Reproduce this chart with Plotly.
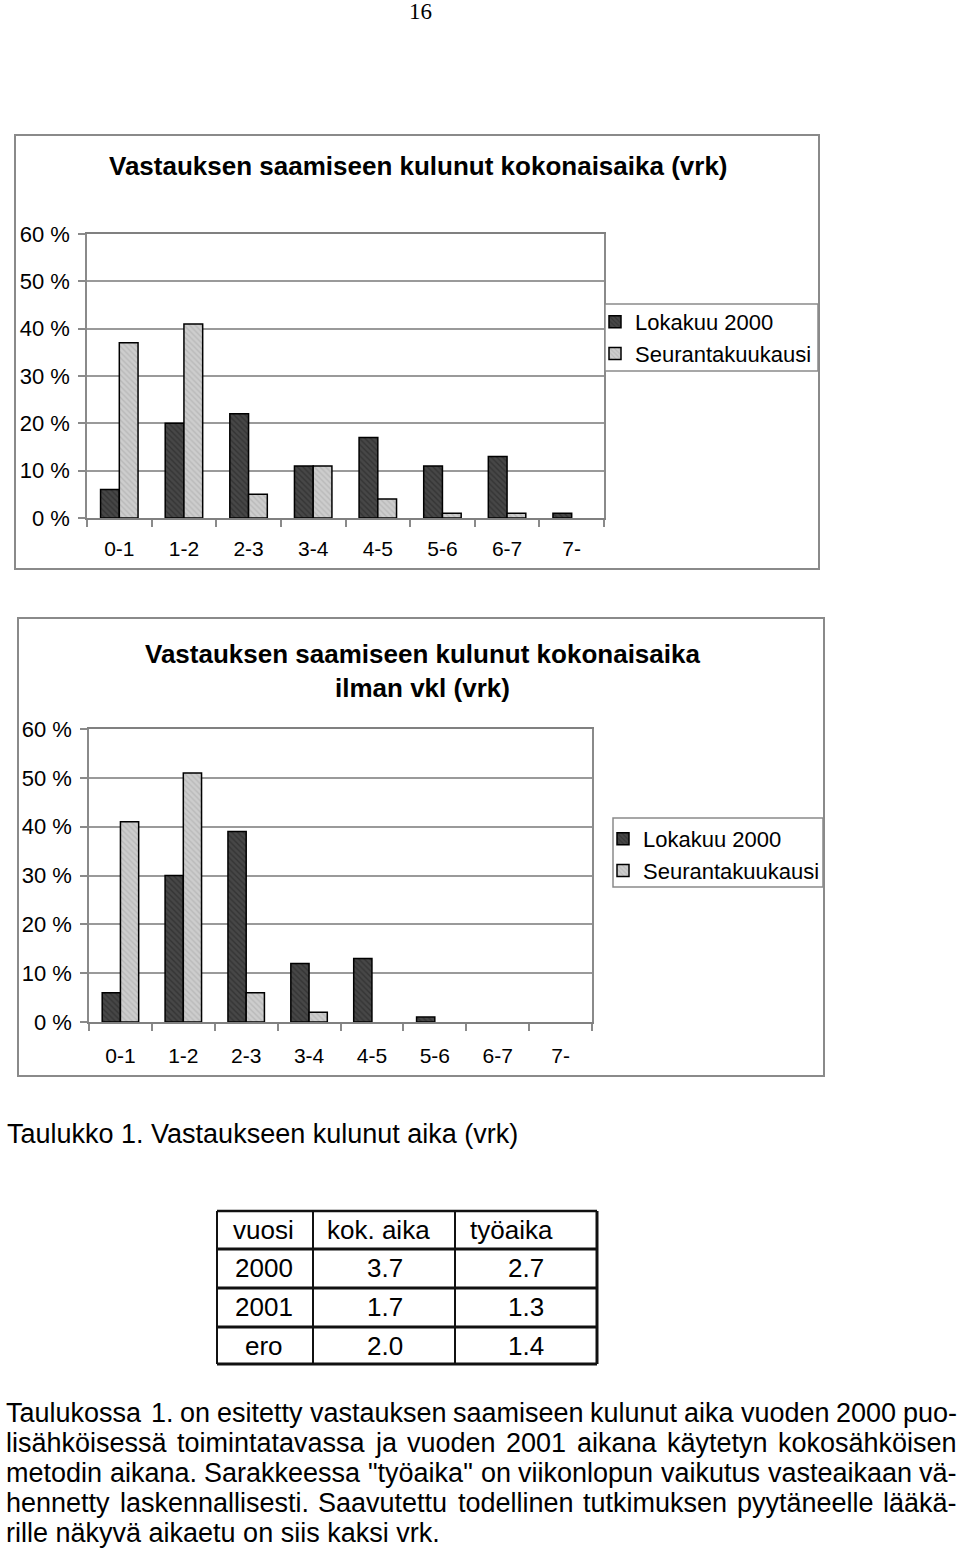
import plotly.graph_objects as go

# ---------------- data ----------------
categories = ["0-1", "1-2", "2-3", "3-4", "4-5", "5-6", "6-7", "7-"]
series_names = ["Lokakuu 2000", "Seurantakuukausi"]

chart1_title = "Vastauksen saamiseen kulunut kokonaisaika (vrk)"
chart1_lokakuu = [6, 20, 22, 11, 17, 11, 13, 1]
chart1_seuranta = [37, 41, 5, 11, 4, 1, 1, 0]

chart2_title = "Vastauksen saamiseen kulunut kokonaisaika<br>ilman vkl (vrk)"
chart2_lokakuu = [6, 30, 39, 12, 13, 1, 0, 0]
chart2_seuranta = [41, 51, 6, 2, 0, 0, 0, 0]

y_tickvals = [0, 10, 20, 30, 40, 50, 60]
y_ticktext = ["0 %", "10 %", "20 %", "30 %", "40 %", "50 %", "60 %"]

page_number = "16"
table_caption = "Taulukko 1. Vastaukseen kulunut aika (vrk)"
table_header = ["vuosi", "kok. aika", "työaika"]
table_rows = ["2000", "2001", "ero"]
table_kok = ["3.7", "1.7", "2.0"]
table_tyo = ["2.7", "1.3", "1.4"]

paragraph_lines = [
    "Taulukossa 1. on esitetty vastauksen saamiseen kulunut aika vuoden 2000 puo-",
    "lisähköisessä toimintatavassa ja vuoden 2001 aikana käytetyn kokosähköisen",
    'metodin aikana. Sarakkeessa "työaika" on viikonlopun vaikutus vasteaikaan vä-',
    "hennetty laskennallisesti. Saavutettu todellinen tutkimuksen pyytäneelle lääkä-",
    "rille näkyvä aikaetu on siis kaksi vrk.",
]

# ---------------- helpers ----------------
W, H = 960, 1551
FONT = "Liberation Sans, Arial, sans-serif"
def px(x):
    return x / W
def py(y):
    return 1 - y / H

DARK = "#474747"
LIGHT = "#cdcdcd"
GRID = "#9a9a9a"
FRAME = "#8a8a8a"

fig = go.Figure()

def outline(values):
    return [1.5 if v > 0 else 0 for v in values]

def add_chart(idx, lok, seu, legend_name):
    xa = "x" if idx == 1 else "x2"
    ya = "y" if idx == 1 else "y2"
    fig.add_trace(go.Bar(
        x=categories, y=lok, name=series_names[0], xaxis=xa, yaxis=ya,
        legend=legend_name,
        marker=dict(color=DARK, line=dict(color="black", width=outline(lok)),
                    pattern=dict(shape="\\", fgcolor="#222222", bgcolor=DARK,
                                 size=4, solidity=0.35)),
        hoverinfo="skip"))
    fig.add_trace(go.Bar(
        x=categories, y=seu, name=series_names[1], xaxis=xa, yaxis=ya,
        legend=legend_name,
        marker=dict(color=LIGHT, line=dict(color="black", width=outline(seu)),
                    pattern=dict(shape="\\", fgcolor="#a6a6a6", bgcolor=LIGHT,
                                 size=4, solidity=0.35)),
        hoverinfo="skip"))

add_chart(1, chart1_lokakuu, chart1_seuranta, "legend")
add_chart(2, chart2_lokakuu, chart2_seuranta, "legend2")

tick_font = dict(family=FONT, size=21, color="black")
ytick_font = dict(family=FONT, size=22, color="black")

def xaxis_cfg(x0, x1, anchor, standoff):
    return dict(domain=[px(x0), px(x1)], anchor=anchor, type="category",
                tickson="boundaries", ticks="outside", ticklen=7,
                tickcolor=FRAME, tickwidth=1.5, showline=True,
                linecolor="#808080", linewidth=1.5, mirror=True,
                showgrid=False, tickfont=tick_font, ticklabelstandoff=standoff,
                fixedrange=True)

def yaxis_cfg(y0, y1, anchor):
    return dict(domain=[py(y1), py(y0)], anchor=anchor, range=[0, 60],
                tickvals=y_tickvals, ticktext=y_ticktext,
                ticks="outside", ticklen=7, tickcolor=FRAME, tickwidth=1.5,
                showline=True, linecolor=FRAME, linewidth=1.5, mirror=True,
                showgrid=True, gridcolor=GRID, gridwidth=1.5,
                zeroline=False, tickfont=ytick_font, ticklabelstandoff=4,
                fixedrange=True)

legend_cfg = dict(font=dict(family=FONT, size=22, color="black"),
                  bgcolor="rgba(0,0,0,0)", borderwidth=0,
                  xanchor="left", yanchor="top", itemclick=False,
                  itemdoubleclick=False, tracegroupgap=0, itemwidth=30)

fig.update_layout(
    width=W, height=H,
    margin=dict(l=0, r=0, t=0, b=0, autoexpand=False),
    paper_bgcolor="white", plot_bgcolor="white",
    barmode="group", bargap=0.42, bargroupgap=0,
    showlegend=True,
    xaxis=xaxis_cfg(87, 604, "y", 11),
    yaxis=yaxis_cfg(234, 518, "x"),
    xaxis2=xaxis_cfg(89, 592, "y2", 14),
    yaxis2=yaxis_cfg(729, 1022, "x2"),
    legend=dict(legend_cfg, x=px(595), y=py(301)),
    legend2=dict(legend_cfg, x=px(603), y=py(818)),
)

shapes = []
# chart frames
shapes.append(dict(type="rect", xref="paper", yref="paper",
                   x0=px(15), x1=px(819), y0=py(569), y1=py(135),
                   line=dict(color=FRAME, width=2), layer="below"))
shapes.append(dict(type="rect", xref="paper", yref="paper",
                   x0=px(18), x1=px(824), y0=py(1076), y1=py(618),
                   line=dict(color=FRAME, width=2), layer="below"))
# legend boxes
shapes.append(dict(type="rect", xref="paper", yref="paper",
                   x0=px(605), x1=px(818), y0=py(371), y1=py(304),
                   line=dict(color=FRAME, width=1.5), fillcolor="white",
                   layer="above"))
shapes.append(dict(type="rect", xref="paper", yref="paper",
                   x0=px(613), x1=px(823), y0=py(887), y1=py(818),
                   line=dict(color=FRAME, width=1.5), fillcolor="white",
                   layer="above"))

# table lines
tx = [217, 313, 455, 597]
ty = [1211, 1249, 1288, 1327, 1364]
for i, y in enumerate(ty):
    shapes.append(dict(type="line", xref="paper", yref="paper",
                       x0=px(tx[0]), x1=px(tx[-1]), y0=py(y), y1=py(y),
                       line=dict(color="#111111", width=3 if i > 0 else 2.5)))
for i, x in enumerate(tx):
    shapes.append(dict(type="line", xref="paper", yref="paper",
                       x0=px(x), x1=px(x), y0=py(ty[0]), y1=py(ty[-1]),
                       line=dict(color="#111111",
                                 width=3 if i == len(tx) - 1 else 2)))

annotations = []
def text(x, y, s, size=27, xanchor="left", bold=False, family=FONT):
    if bold:
        s = "<b>" + s + "</b>"
    annotations.append(dict(x=px(x), y=py(y), xref="paper", yref="paper",
                            text=s, showarrow=False, xanchor=xanchor,
                            yanchor="middle", align="center",
                            font=dict(family=family, size=size, color="black")))

# page number
text(420, 12, page_number, size=23, xanchor="center",
     family="Liberation Serif, Times New Roman, serif")
# chart titles
text(418, 166, chart1_title, size=26, xanchor="center", bold=True)
annotations.append(dict(x=px(422), y=py(671), xref="paper", yref="paper",
                        text="<b>" + chart2_title + "</b>", showarrow=False,
                        xanchor="center", yanchor="middle", align="center",
                        font=dict(family=FONT, size=26, color="black")))

# caption
text(5, 1134, table_caption, size=27)

# table text
header_x = [231, 325, 468]
for hx, h in zip(header_x, table_header):
    text(hx, 1230, h, size=26)
row_y = [1268, 1307, 1346]
for ry, a, b, c in zip(row_y, table_rows, table_kok, table_tyo):
    text(264, ry, a, size=26, xanchor="center")
    text(385, ry, b, size=26, xanchor="center")
    text(526, ry, c, size=26, xanchor="center")

# paragraph (justified using Arial/Liberation Sans advance widths)
ADV = {" ": 278, '"': 355, "-": 333, ".": 278, "A": 667, "S": 667, "T": 611,
       "a": 556, "b": 556, "c": 500, "d": 556, "e": 556, "f": 278, "g": 556,
       "h": 556, "i": 222, "j": 222, "k": 500, "l": 222, "m": 833, "n": 556,
       "o": 556, "p": 556, "q": 556, "r": 333, "s": 500, "t": 278, "u": 556,
       "v": 500, "w": 722, "x": 500, "y": 500, "z": 500, "ä": 556, "ö": 556}
def width(s, size):
    return sum(ADV.get(ch, 556) for ch in s) * size / 1000.0

P_SIZE = 27
line_y = [1413, 1443, 1473, 1503, 1533]
left, right = 5, 956
for i, line in enumerate(paragraph_lines):
    if i < len(paragraph_lines) - 1:
        words = line.split(" ")
        total = sum(width(w, P_SIZE) for w in words)
        gap = (right - left - total) / (len(words) - 1)
        x = left
        for w in words:
            text(x - 1, line_y[i], w, size=P_SIZE)
            x += width(w, P_SIZE) + gap
    else:
        text(left - 1, line_y[i], line, size=P_SIZE)

fig.update_layout(shapes=shapes, annotations=annotations)

fig.write_html("out.html")
